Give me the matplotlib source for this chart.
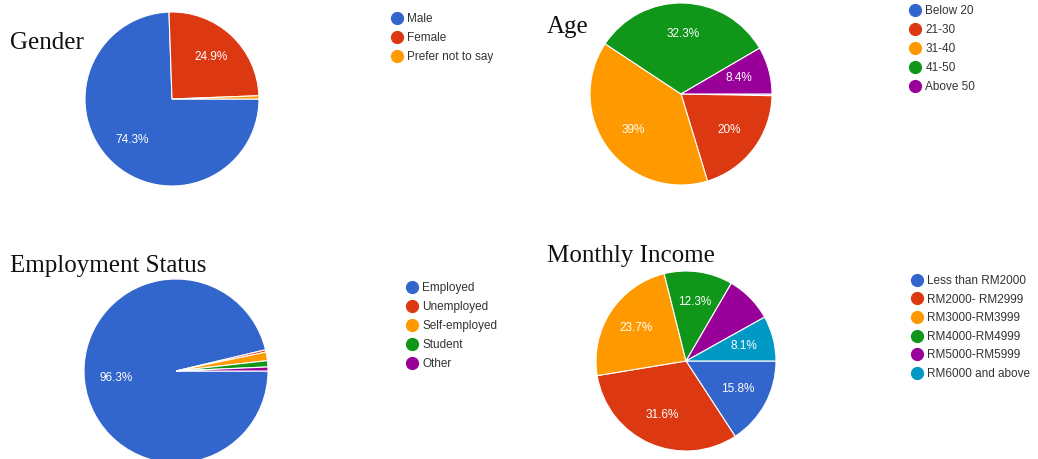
import numpy as np
import matplotlib.pyplot as plt
from matplotlib.lines import Line2D

W, H = 1038, 459

BLUE = "#3366cc"
RED = "#dc3912"
ORANGE = "#ff9900"
GREEN = "#109618"
PURPLE = "#990099"
TEAL = "#0099c6"

gender_labels = ["Male", "Female", "Prefer not to say"]
gender_values = [74.3, 24.9, 0.6]

age_labels = ["Below 20", "21-30", "31-40", "41-50", "Above 50"]
age_values = [0.3, 20.0, 39.0, 32.3, 8.4]

employment_labels = ["Employed", "Unemployed", "Self-employed", "Student", "Other"]
employment_values = [96.3, 0.4, 1.5, 1.1, 0.7]

income_labels = ["Less than RM2000", "RM2000- RM2999", "RM3000-RM3999",
                 "RM4000-RM4999", "RM5000-RM5999", "RM6000 and above"]
income_values = [15.8, 31.6, 23.7, 12.3, 8.5, 8.1]

# which percentages get printed on the slices
gender_shown = [True, True, False]
age_shown = [False, True, True, True, True]
employment_shown = [True, False, False, False, False]
income_shown = [True, True, True, True, False, True]

colors = [BLUE, RED, ORANGE, GREEN, PURPLE, TEAL]

fig = plt.figure(figsize=(W / 100, H / 100), dpi=100)
fig.patch.set_facecolor("white")


def fmt_pct(v):
    s = f"{v:.1f}"
    if s.endswith(".0"):
        s = s[:-2]
    return s + "%"


def draw_pie(cx, cy, r, values, shown):
    # cx, cy, r in pixels, y measured from the top
    ax = fig.add_axes([(cx - r) / W, (H - cy - r) / H, 2 * r / W, 2 * r / H])
    ax.pie(values, colors=colors[:len(values)], startangle=0,
           counterclock=False, radius=1,
           wedgeprops=dict(edgecolor="white", linewidth=0.8))
    total = sum(values)
    ang = 0.0
    for v, show in zip(values, shown):
        mid = ang - v / total * 180
        ang -= v / total * 360
        if show:
            x = 0.66 * np.cos(np.radians(mid))
            y = 0.66 * np.sin(np.radians(mid))
            ax.text(x, y, fmt_pct(v), color="white", ha="center", va="center",
                    fontsize=8.5, family="Liberation Sans")
    ax.set_xlim(-1, 1)
    ax.set_ylim(-1, 1)
    ax.set_aspect("equal")
    ax.axis("off")


def draw_legend(x, y, labels, spacing):
    handles = [Line2D([], [], marker="o", linestyle="", markersize=8.5,
                      markerfacecolor=c, markeredgecolor=c) for c in colors[:len(labels)]]
    fig.legend(handles, labels, loc="upper left",
               bbox_to_anchor=(x / W, 1 - y / H), frameon=False,
               prop=dict(family="Liberation Sans", size=8.5),
               handlelength=0.8, handletextpad=0.5, labelspacing=spacing,
               borderpad=0, borderaxespad=0, labelcolor="#333333")


def draw_title(x, y, text):
    fig.text(x / W, 1 - y / H, text, ha="left", va="center",
             family="Liberation Serif", fontsize=18, color="#111111")


draw_pie(172, 99, 87, gender_values, gender_shown)
draw_pie(681, 94, 91, age_values, age_shown)
draw_pie(176, 371, 92, employment_values, employment_shown)
draw_pie(686, 361, 90, income_values, income_shown)

draw_title(10, 43, "Gender")
draw_title(547, 27, "Age")
draw_title(10, 266, "Employment Status")
draw_title(547, 256, "Monthly Income")

draw_legend(392, 13, gender_labels, 0.6)
draw_legend(910, 5, age_labels, 0.6)
draw_legend(407, 282, employment_labels, 0.6)
draw_legend(912, 275, income_labels, 0.56)

fig.savefig("out.png", dpi=100, facecolor="white")
